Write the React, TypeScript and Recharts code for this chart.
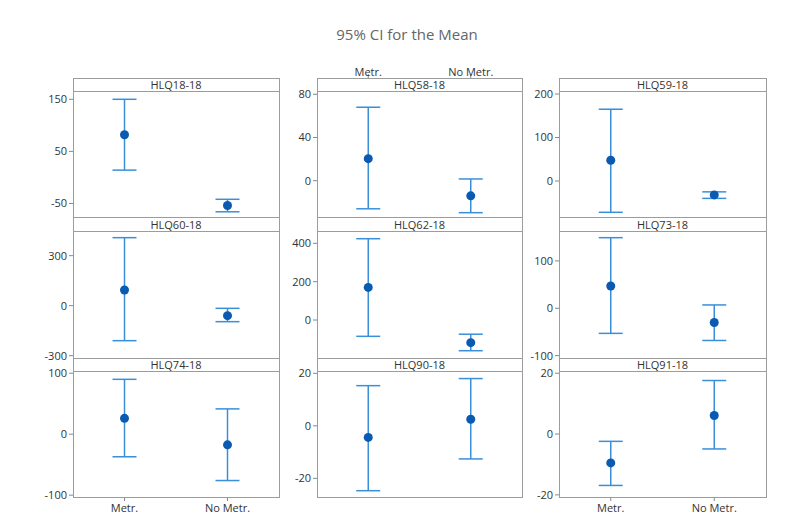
import React from 'react';
import { ComposedChart, Line, ErrorBar, XAxis, YAxis } from 'recharts';

// ---- Data ----
const categories = ['Metr.', 'No Metr.'];
const panelNames = ['HLQ18-18', 'HLQ58-18', 'HLQ59-18', 'HLQ60-18', 'HLQ62-18', 'HLQ73-18', 'HLQ74-18', 'HLQ90-18', 'HLQ91-18'];

const metrMean = [82, 20.4, 47.6, 94, 170, 47, 26, -4.4, -9.5];
const metrLower = [14, -26, -72, -210, -85, -53, -37, -24.7, -16.9];
const metrUpper = [150, 68, 165, 408, 424, 149, 90, 15.3, -2.4];

const noMetrMean = [-54, -14, -32, -60, -118, -30, -17.5, 2.5, 6.1];
const noMetrLower = [-66, -29.6, -40, -96, -160, -68, -76, -12.6, -4.9];
const noMetrUpper = [-42, 1.6, -25, -16, -74, 7, 41.5, 18, 17.6];

const yTicks = [
  [-50, 50, 150],
  [0, 40, 80],
  [0, 100, 200],
  [-300, 0, 300],
  [0, 200, 400],
  [-100, 0, 100],
  [-100, 0, 100],
  [-20, 0, 20],
  [-20, 0, 20],
];
const yDomains = [
  [-76, 164],
  [-33.6, 82.1],
  [-82.8, 204.6],
  [-314, 442],
  [-198, 459],
  [-105, 161],
  [-103, 102],
  [-27.1, 20.5],
  [-20.7, 20.4],
];

const title = '95% CI for the Mean';

// ---- Layout ----
const colX = [
  [73, 279],
  [317, 522],
  [559, 766],
];
const rowY = [
  // stripTop, plotTop, plotBottom
  [78, 92, 217],
  [217, 232, 358],
  [358, 372, 497],
];

const FONT = "'Open Sans', 'Noto Sans', sans-serif";
const FRAME = '#9c9c9c';
const DOT = '#0a5ab2';
const BAR = '#3a8fd9';

function Panel({ idx }: { idx: number }) {
  const row = Math.floor(idx / 3);
  const col = idx % 3;
  const [fl, fr] = colX[col];
  const [st, pt, pb] = rowY[row];
  const fw = fr - fl;
  const ph = pb - pt;
  const data = categories.map((c, i) => {
    const mean = i === 0 ? metrMean[idx] : noMetrMean[idx];
    const lo = i === 0 ? metrLower[idx] : noMetrLower[idx];
    const hi = i === 0 ? metrUpper[idx] : noMetrUpper[idx];
    return { cat: c, mean, err: [mean - lo, hi - mean] };
  });
  const bottomAxis = row === 2 && col !== 1;
  const topAxis = row === 0 && col === 1;
  const chartLeft = fl - 45;
  const chartTop = pt - 40;
  const width = fw + 45 + 5;
  const height = ph + 40 + 30;
  const margin = {
    top: topAxis ? 0 : 40,
    right: 5,
    bottom: bottomAxis ? 0 : 30,
    left: 0,
  };
  return (
    <>
      <div style={{ position: 'absolute', left: chartLeft, top: chartTop }}>
        <ComposedChart width={width} height={height} data={data} margin={margin}>
          <XAxis
            dataKey="cat"
            type="category"
            scale="band"
            hide={!bottomAxis && !topAxis}
            orientation={topAxis ? 'top' : 'bottom'}
            height={topAxis ? 40 : 30}
            axisLine={false}
            tickLine={{ stroke: '#888' }}
            tickSize={topAxis ? 18 : 4}
            tickMargin={topAxis ? -2 : 3}
            tick={{ fill: '#333', fontSize: 11, fontFamily: FONT }}
            interval={0}
          />
          <YAxis
            width={45}
            type="number"
            domain={yDomains[idx]}
            allowDataOverflow
            ticks={yTicks[idx]}
            axisLine={false}
            tickLine={{ stroke: '#888' }}
            tickSize={4}
            tickMargin={2}
            tick={{ fill: '#333', fontSize: 11, fontFamily: FONT }}
            interval={0}
          />
          <Line
            dataKey="mean"
            stroke="none"
            isAnimationActive={false}
            activeDot={false}
            dot={{ r: 4.5, fill: DOT, stroke: DOT, strokeWidth: 0 }}
          >
            <ErrorBar dataKey="err" direction="y" width={12} stroke={BAR} strokeWidth={1.5} isAnimationActive={false} />
          </Line>
        </ComposedChart>
      </div>
      <div
        style={{
          position: 'absolute',
          left: fl,
          top: st,
          width: fw,
          height: pt - st,
          background: '#fff',
          borderBottom: `1px solid ${FRAME}`,
          boxSizing: 'border-box',
          textAlign: 'center',
          fontFamily: FONT,
          fontSize: 11,
          lineHeight: `${pt - st}px`,
          color: '#333',
        }}
      >
        {panelNames[idx]}
      </div>
      <div
        style={{
          position: 'absolute',
          left: fl,
          top: st,
          width: fw + 1,
          height: pb - st + 1,
          border: `1px solid ${FRAME}`,
          boxSizing: 'border-box',
          pointerEvents: 'none',
        }}
      />
    </>
  );
}

export default function App() {
  return (
    <div
      style={{
        position: 'absolute',
        left: 0,
        top: 0,
        width: 792,
        height: 530,
        background: '#fff',
        overflow: 'hidden',
        fontFamily: FONT,
      }}
    >
      <div
        style={{
          position: 'absolute',
          left: 0,
          width: 814,
          top: 24,
          textAlign: 'center',
          fontSize: 15,
          color: '#666',
          fontFamily: FONT,
        }}
      >
        {title}
      </div>
      {panelNames.map((_, i) => (
        <Panel key={i} idx={i} />
      ))}
    </div>
  );
}
